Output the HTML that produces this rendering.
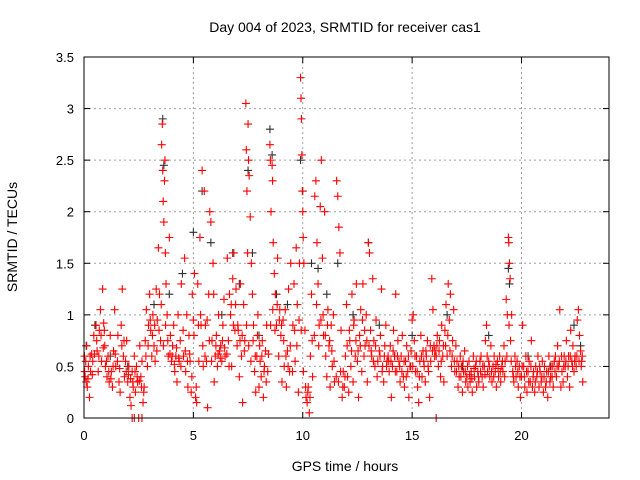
<!DOCTYPE html>
<html><head><meta charset="utf-8"><style>
body{margin:0;background:#fff;}
svg{display:block;font-family:"Liberation Sans",sans-serif;}
</style></head><body>
<svg id="chart" width="640" height="480" viewBox="0 0 640 480">
<rect width="640" height="480" fill="#fff"/>
<text x="345" y="32" font-size="14" text-anchor="middle">Day 004 of 2023, SRMTID for receiver cas1</text>
<text x="345" y="471" font-size="14" text-anchor="middle">GPS time / hours</text>
<text transform="translate(17,237) rotate(-90)" font-size="14" text-anchor="middle">SRMTID / TECUs</text>
<g id="grid"></g>
<g id="ticks"></g>
<g id="black"></g>
<g id="red"></g>
<rect x="84" y="57" width="525" height="361" fill="none" stroke="#000" stroke-width="1"/>
</svg>
<script>
const xTicks=[0,5,10,15,20];
const yTicks=[0,0.5,1,1.5,2,2.5,3,3.5];
const yTickLabels=["0","0.5","1","1.5","2","2.5","3","3.5"];
const blackData=[[0.1,0.7],[0.5,0.9],[1.2,0.6],[2.0,0.5],[3.2,1.1],[3.6,2.9],[3.65,2.45],[3.9,1.2],[4.5,1.4],[5.0,1.8],[5.4,2.2],[5.8,1.7],[6.3,1.0],[6.8,1.6],[7.1,1.3],[7.5,2.4],[7.7,1.6],[8.0,0.8],[8.5,2.8],[8.6,2.55],[8.8,1.2],[9.3,1.1],[9.9,2.5],[10.0,2.2],[10.4,1.5],[10.7,1.45],[11.1,1.2],[11.6,1.5],[12.3,1.0],[13.0,1.7],[13.5,0.9],[14.2,0.6],[15.0,0.8],[16.0,0.7],[16.6,1.0],[17.3,0.5],[18.5,0.8],[19.4,1.45],[19.45,1.3],[20.3,0.6],[21.3,0.5],[22.4,0.9],[22.7,0.7]];
const redData=[[0.02,0.6],[0.05,0.4],[0.1,0.35],[0.12,0.7],[0.15,0.3],[0.2,0.5],[0.25,0.2],[0.3,0.45],[0.35,0.62],[0.4,0.55],[0.45,0.8],
[0.55,0.9],[0.6,0.65],[0.65,0.45],[0.7,0.85],[0.75,1.05],[0.8,0.55],[0.85,1.25],[0.9,0.92],[0.95,0.7],[0.98,0.5],
[1.05,0.4],[1.1,0.6],[1.15,0.35],[1.2,0.8],[1.25,0.45],[1.3,0.3],[1.35,0.65],[1.4,1.05],[1.45,0.5],
[1.55,0.8],[1.6,0.35],[1.65,0.25],[1.7,0.9],[1.75,1.25],[1.8,0.6],[1.85,0.4],[1.9,0.55],[1.95,0.75],
[2.0,0.35],[2.05,0.5],[2.1,0.2],[2.15,0.12],[2.2,0.45],[2.25,0.3],[2.3,0.6],[2.35,0.25],[2.4,0.5],[2.45,0.35],
[2.55,0.7],[2.6,0.4],[2.65,0.55],[2.7,0.15],[2.75,0.3],[2.8,0.75],[2.85,1.05],[2.9,0.5],[2.95,0.9],
[2.2,0],[2.3,0],[2.5,0],[2.65,0],[16.1,0],
[3.0,1.2],[3.05,0.85],[3.1,0.6],[3.15,1.0],[3.2,0.7],[3.25,0.55],[3.3,1.25],[3.35,0.95],[3.4,1.65],[3.45,1.2],[3.5,0.75],
[3.55,2.65],[3.58,2.85],[3.6,2.4],[3.62,2.1],[3.65,1.9],[3.68,2.3],[3.7,2.5],[3.72,1.6],[3.75,1.3],[3.8,1.0],[3.85,0.6],[3.9,1.75],[3.95,0.8],
[4.0,0.55],[4.05,0.7],[4.1,0.9],[4.15,0.45],[4.2,0.6],[4.25,0.35],[4.3,1.0],[4.35,0.55],[4.4,0.75],[4.45,1.3],
[4.55,0.6],[4.6,1.55],[4.65,0.45],[4.7,1.0],[4.75,0.3],[4.8,0.8],[4.85,0.55],[4.9,0.25],[4.95,1.2],
[5.0,0.95],[5.05,1.4],[5.1,0.2],[5.15,0.15],[5.2,1.3],[5.25,0.55],[5.3,1.75],[5.35,0.9],[5.4,2.4],[5.45,0.5],[5.5,2.2],
[5.55,0.9],[5.6,0.55],[5.65,0.1],[5.7,1.2],[5.75,2.0],[5.8,1.9],[5.85,0.75],[5.9,1.5],[5.95,0.35],
[6.0,0.6],[6.05,0.8],[6.1,0.5],[6.15,1.0],[6.2,0.65],[6.25,0.7],[6.3,0.55],[6.35,0.9],[6.4,1.15],[6.45,0.6],
[6.55,1.55],[6.6,0.75],[6.65,1.2],[6.7,1.0],[6.75,0.5],[6.8,1.35],[6.85,1.6],[6.9,0.85],[6.95,1.25],
[7.0,0.7],[7.05,0.85],[7.1,0.4],[7.15,1.3],[7.2,0.6],[7.25,0.15],[7.3,1.1],[7.35,0.75],[7.4,3.05],[7.42,2.6],[7.45,2.2],[7.48,1.6],
[7.5,2.85],[7.52,2.5],[7.55,2.35],[7.6,1.95],[7.65,1.5],[7.7,1.2],[7.75,0.9],[7.8,0.45],[7.85,0.25],[7.9,0.6],[7.95,1.0],
[8.0,0.3],[8.05,0.55],[8.1,0.4],[8.15,0.75],[8.2,0.2],[8.25,0.5],[8.3,0.65],[8.35,0.9],[8.4,0.45],
[8.5,2.65],[8.52,2.5],[8.55,2.0],[8.6,2.45],[8.62,2.3],[8.65,1.7],[8.7,1.4],[8.75,1.2],[8.8,0.9],[8.85,1.55],[8.9,0.6],[8.95,1.05],
[9.0,0.8],[9.05,0.35],[9.1,0.95],[9.15,0.5],[9.2,1.05],[9.25,0.3],[9.3,0.65],[9.35,1.25],[9.4,0.45],[9.45,1.5],
[9.55,0.9],[9.6,1.3],[9.65,0.55],[9.7,1.65],[9.75,1.1],[9.8,0.25],[9.85,1.5],[9.9,3.3],[9.92,3.1],[9.94,2.9],[9.96,2.55],[9.98,2.2],
[10.0,2.0],[10.02,1.75],[10.05,1.5],[10.1,0.85],[10.15,0.2],[10.2,0.15],[10.25,0.3],[10.3,0.05],[10.35,0.6],[10.4,1.2],[10.45,0.4],
[10.55,2.15],[10.6,2.3],[10.65,1.7],[10.7,1.3],[10.75,0.9],[10.8,2.05],[10.85,2.5],[10.9,1.55],[10.95,0.8],
[11.0,2.0],[11.05,0.6],[11.1,0.4],[11.15,1.05],[11.2,0.7],[11.25,0.3],[11.3,0.9],[11.35,0.5],[11.4,1.0],[11.45,0.35],
[11.55,2.3],[11.6,2.15],[11.65,1.85],[11.7,1.6],[11.75,0.85],[11.8,0.2],[11.85,0.45],[11.9,0.3],[11.95,0.6],
[12.0,1.1],[12.05,0.4],[12.1,0.25],[12.15,0.75],[12.2,0.5],[12.25,1.2],[12.3,0.35],[12.35,0.95],[12.4,0.6],[12.45,1.3],
[12.5,0.55],[12.55,0.2],[12.6,0.8],[12.65,1.05],[12.7,0.45],[12.75,1.3],[12.8,0.6],[12.85,0.7],[12.9,1.0],[12.95,0.35],
[13.0,1.7],[13.05,1.6],[13.1,0.85],[13.15,0.6],[13.2,1.35],[13.25,0.75],[13.3,0.5],[13.35,0.95],[13.4,0.4],
[13.5,0.65],[13.55,0.8],[13.6,1.25],[13.65,0.5],[13.7,0.35],[13.75,0.7],[13.8,0.9],[13.85,0.55],[13.9,0.6],[13.95,0.45],
[14.0,0.7],[14.05,0.2],[14.1,0.5],[14.15,0.85],[14.2,0.6],[14.25,1.2],[14.3,0.45],[14.35,0.75],[14.4,0.55],[14.45,0.35],
[14.5,0.6],[14.55,0.8],[14.6,0.4],[14.65,0.3],[14.7,0.55],[14.75,0.7],[14.8,0.45],[14.85,0.2],[14.9,0.5],[14.95,0.65],
[15.0,0.95],[15.05,1.0],[15.1,0.75],[15.15,0.45],[15.2,0.6],[15.25,0.3],[15.3,0.15],[15.35,0.55],[15.4,0.8],[15.45,0.4],
[15.5,0.65],[15.55,0.5],[15.6,0.35],[15.65,0.6],[15.7,0.75],[15.75,0.45],[15.8,0.2],[15.85,0.55],[15.9,1.35],[15.95,1.05],
[16.0,0.7],[16.05,0.65],[16.1,0.6],[16.15,0.8],[16.2,0.5],[16.25,0.75],[16.3,0.4],[16.35,0.9],[16.4,0.6],[16.45,0.35],
[16.5,0.85],[16.55,1.1],[16.6,0.6],[16.65,1.3],[16.7,0.95],[16.75,1.2],[16.8,0.5],[16.85,0.75],[16.9,1.05],[16.95,0.45],
[17.0,0.7],[17.05,0.55],[17.1,0.3],[17.15,0.4],[17.2,0.6],[17.25,0.5],[17.3,0.25],[17.35,0.45],[17.4,0.65],[17.45,0.35],
[17.5,0.4],[17.55,0.3],[17.6,0.55],[17.65,0.35],[17.7,0.45],[17.75,0.25],[17.8,0.6],[17.85,0.4],[17.9,0.5],[17.95,0.3],
[18.0,0.45],[18.05,0.35],[18.1,0.55],[18.15,0.6],[18.2,0.4],[18.25,0.3],[18.3,0.5],[18.35,0.75],[18.4,0.9],[18.45,0.45],
[18.5,0.55],[18.55,0.4],[18.6,0.7],[18.65,0.35],[18.7,0.5],[18.75,0.6],[18.8,0.45],[18.85,0.3],[18.9,0.55],[18.95,0.4],
[19.0,0.6],[19.05,0.35],[19.1,0.5],[19.15,0.45],[19.2,0.7],[19.25,0.55],[19.3,1.15],[19.35,1.0],[19.4,1.75],[19.42,1.7],[19.45,1.5],[19.48,1.35],
[19.5,0.75],[19.55,1.0],[19.6,0.45],[19.65,0.35],[19.7,0.6],[19.75,0.4],[19.8,0.55],[19.85,0.3],[19.9,0.5],[19.95,0.2],
[20.0,0.4],[20.05,0.9],[20.1,0.5],[20.15,0.3],[20.2,0.6],[20.25,0.25],[20.3,0.45],[20.35,0.55],[20.4,0.35],[20.45,0.75],
[20.5,0.3],[20.55,0.45],[20.6,0.25],[20.65,0.5],[20.7,0.4],[20.75,0.6],[20.8,0.3],[20.85,0.45],[20.9,0.35],[20.95,0.55],
[21.0,0.25],[21.05,0.5],[21.1,0.3],[21.15,0.45],[21.2,0.2],[21.25,0.6],[21.3,0.35],[21.35,0.5],[21.4,0.4],[21.45,0.3],
[21.5,0.55],[21.55,0.6],[21.6,0.4],[21.65,0.7],[21.7,0.5],[21.75,1.05],[21.8,0.3],[21.85,0.45],[21.9,0.35],[21.95,0.6],
[22.0,0.5],[22.05,0.75],[22.1,0.4],[22.15,0.6],[22.2,0.3],[22.25,0.85],[22.3,0.55],[22.35,0.7],[22.4,0.45],[22.45,0.6],
[22.5,0.5],[22.55,0.95],[22.6,1.05],[22.65,0.8],[22.7,0.65],[22.75,0.55],[22.8,0.35]];
const redDense=[[0.03,0.45],[0.08,0.55],[0.18,0.38],[0.28,0.6],[0.38,0.42],[0.48,0.62],[0.58,0.75],[0.68,0.6],[0.78,0.8],[0.88,0.68],[0.93,0.85],
[1.03,0.55],[1.13,0.45],[1.23,0.38],[1.33,0.5],[1.43,0.62],[1.53,0.55],[1.63,0.48],[1.73,0.7],[1.83,0.75],[1.93,0.45],
[2.03,0.42],[2.13,0.38],[2.23,0.35],[2.33,0.45],[2.43,0.4],[2.53,0.36],[2.63,0.3],[2.73,0.25],[2.83,0.6],[2.93,0.7],
[3.03,0.95],[3.13,0.8],[3.23,0.9],[3.33,0.65],[3.43,0.85],[3.53,1.1],[3.63,0.7],[3.73,0.9],[3.83,0.75],[3.93,0.62],
[4.03,0.6],[4.13,0.52],[4.23,0.68],[4.33,0.58],[4.43,0.5],[4.53,0.85],[4.63,0.65],[4.73,0.55],[4.83,0.62],[4.93,0.4],
[5.03,0.8],[5.13,0.3],[5.23,0.9],[5.33,1.0],[5.43,0.7],[5.53,0.6],[5.63,0.95],[5.73,0.75],[5.83,0.55],[5.93,1.2],
[6.03,0.7],[6.13,0.62],[6.23,0.58],[6.33,0.75],[6.43,0.68],[6.53,0.62],[6.63,0.5],[6.73,1.1],[6.83,0.9],[6.93,1.1],
[7.03,0.9],[7.13,0.75],[7.23,0.8],[7.33,0.65],[7.43,0.9],[7.53,0.7],[7.63,0.55],[7.73,0.75],[7.83,0.6],[7.93,0.8],
[8.03,0.7],[8.13,0.6],[8.23,0.45],[8.33,0.35],[8.43,0.62],[8.53,0.9],[8.63,1.05],[8.73,0.85],[8.83,1.1],[8.93,0.95],
[9.03,0.9],[9.13,0.75],[9.23,0.6],[9.33,0.5],[9.43,0.7],[9.53,0.45],[9.63,0.85],[9.73,0.7],[9.83,0.95],[9.93,0.85],
[10.03,0.45],[10.13,0.3],[10.23,0.25],[10.33,0.2],[10.43,0.75],[10.53,0.8],[10.63,1.1],[10.73,0.7],[10.83,0.95],[10.93,1.0],
[11.03,0.8],[11.13,0.9],[11.23,0.75],[11.33,0.65],[11.43,0.55],[11.53,0.4],[11.63,0.35],[11.73,0.45],[11.83,0.3],[11.93,0.4],
[12.03,0.7],[12.13,0.85],[12.23,0.65],[12.33,0.9],[12.43,0.75],[12.53,0.65],[12.63,0.7],[12.73,0.95],[12.83,0.85],[12.93,0.75],
[13.03,0.7],[13.13,0.65],[13.23,0.55],[13.33,0.7],[13.43,0.55],[13.53,0.6],[13.63,0.45],[13.73,0.6],[13.83,0.5],[13.93,0.55],
[14.03,0.55],[14.13,0.65],[14.23,0.45],[14.33,0.6],[14.43,0.5],[14.53,0.45],[14.63,0.55],[14.73,0.4],[14.83,0.6],[14.93,0.5],
[15.03,0.5],[15.13,0.6],[15.23,0.45],[15.33,0.4],[15.43,0.6],[15.53,0.55],[15.63,0.65],[15.73,0.5],[15.83,0.7],[15.93,0.65],
[16.03,0.6],[16.13,0.7],[16.23,0.65],[16.33,0.55],[16.43,0.7],[16.53,0.7],[16.63,0.8],[16.73,0.65],[16.83,0.6],[16.93,0.55],
[17.03,0.45],[17.13,0.5],[17.23,0.4],[17.33,0.55],[17.43,0.45],[17.53,0.5],[17.63,0.42],[17.73,0.38],[17.83,0.48],[17.93,0.55],
[18.03,0.4],[18.13,0.45],[18.23,0.5],[18.33,0.42],[18.43,0.6],[18.53,0.5],[18.63,0.45],[18.73,0.4],[18.83,0.52],[18.93,0.48],
[19.03,0.45],[19.13,0.55],[19.23,0.4],[19.33,0.6],[19.43,0.9],[19.53,0.55],[19.63,0.4],[19.73,0.5],[19.83,0.45],[19.93,0.4],
[20.03,0.5],[20.13,0.4],[20.23,0.45],[20.33,0.35],[20.43,0.5],[20.53,0.4],[20.63,0.35],[20.73,0.45],[20.83,0.5],[20.93,0.4],
[21.03,0.4],[21.13,0.35],[21.23,0.45],[21.33,0.4],[21.43,0.5],[21.53,0.45],[21.63,0.5],[21.73,0.55],[21.83,0.6],[21.93,0.5],
[22.03,0.55],[22.13,0.5],[22.23,0.6],[22.33,0.5],[22.43,0.55],[22.53,0.6],[22.63,0.55],[22.73,0.5],[22.78,0.6]];

const X0=84,X1=609,Y0=418,Y1=57,XMAX=24,YMAX=3.5;
function sx(t){return X0+(X1-X0)*t/XMAX;}
function sy(v){return Y0-(Y0-Y1)*v/YMAX;}
const NS="http://www.w3.org/2000/svg";
function mk(tag,attrs,parent){const e=document.createElementNS(NS,tag);for(const k in attrs)e.setAttribute(k,attrs[k]);parent.appendChild(e);return e;}
const grid=document.getElementById('grid'),ticks=document.getElementById('ticks');
xTicks.forEach(t=>{
  const x=sx(t);
  if(t>0){const g=mk('line',{x1:x,x2:x,y1:Y1,y2:Y0,stroke:'#a0a0a0','stroke-dasharray':'2,3'},grid);
  
  }
  mk('line',{x1:x,x2:x,y1:Y0,y2:Y0-6,stroke:'#000'},grid);
  mk('line',{x1:x,x2:x,y1:Y1,y2:Y1+6,stroke:'#000'},grid);
  const l=mk('text',{x:x,y:Y0+22,'font-size':13,'text-anchor':'middle'},ticks);l.textContent=String(t);
  
  
});
yTicks.forEach((v,i)=>{
  const y=sy(v);
  if(v>0&&v<YMAX){const g=mk('line',{x1:X0,x2:X1,y1:y,y2:y,stroke:'#a0a0a0','stroke-dasharray':'2,3'},grid);
  
  }
  mk('line',{x1:X0,x2:X0+6,y1:y,y2:y,stroke:'#000'},grid);
  mk('line',{x1:X1,x2:X1-6,y1:y,y2:y,stroke:'#000'},grid);
  const l=mk('text',{x:X0-10,y:y+5,'font-size':13,'text-anchor':'end'},ticks);l.textContent=yTickLabels[i];
  
  
});
function plus(data,color,g,name){
  data.forEach(d=>{
    const x=sx(d[0]),y=sy(d[1]);
    const p=mk('path',{d:`M${x-4},${y}H${x+4}M${x},${y-4}V${y+4}`,stroke:color,'stroke-width':1.1,fill:'none'},g);
    
    
  });
}
plus(blackData,'#303030',document.getElementById('black'),'black-point');
plus(redData,'#ff0000',document.getElementById('red'),'red-point');
plus(redDense,'#ff0000',document.getElementById('red'),'red-point');
</script>
</body></html>
